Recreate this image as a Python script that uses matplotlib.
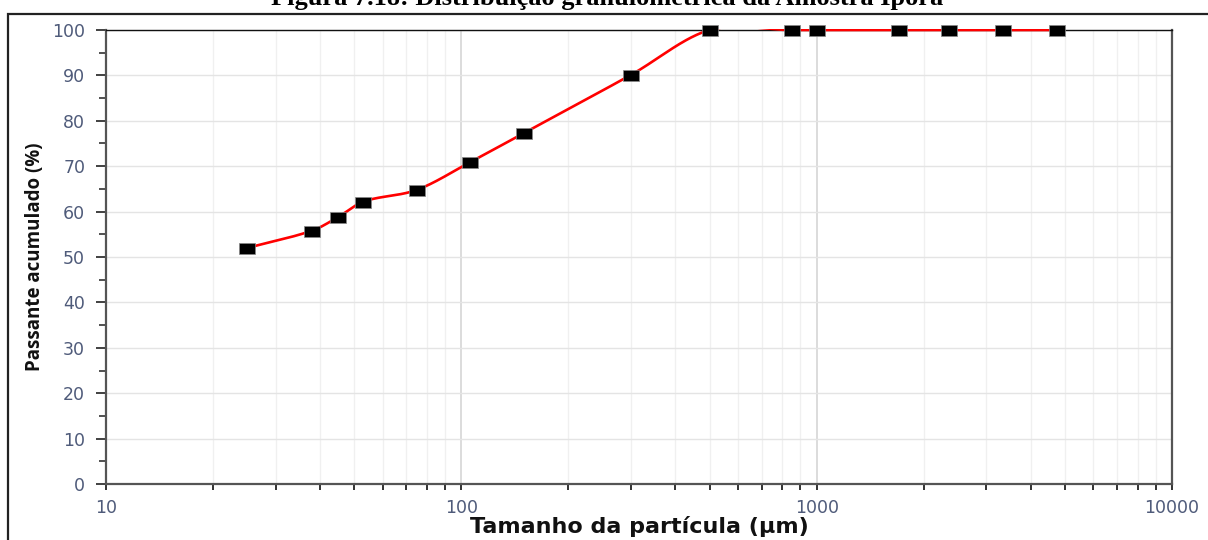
import numpy as np
import matplotlib
matplotlib.use("Agg")
import matplotlib.pyplot as plt
from matplotlib.patches import Rectangle
from matplotlib.ticker import FixedLocator, NullFormatter, FuncFormatter

# Particle size distribution, Iporá sample
size_um = [25, 38, 45, 53, 75, 106, 150, 300, 500, 850, 1000, 1700, 2360, 3350, 4750]
passing_pct = [52.0, 55.8, 58.8, 62.2, 64.8, 70.9, 77.3, 90.1, 100, 100, 100, 100, 100, 100, 100]

x_ticks = [10, 100, 1000, 10000]
y_ticks = list(range(0, 101, 10))

title = "Figura 7.18: Distribuição granulométrica da Amostra Iporá"
x_label = "Tamanho da partícula (µm)"
y_label = "Passante acumulado (%)"


def smooth_curve(xs, ys, n=60):
    """Cubic Hermite curve through the points, built in log10(x)."""
    u = np.log10(np.asarray(xs, float))
    y = np.asarray(ys, float)
    m = np.empty_like(y)
    m[1:-1] = (y[2:] - y[:-2]) / (u[2:] - u[:-2])
    m[0] = (y[1] - y[0]) / (u[1] - u[0])
    m[-1] = (y[-1] - y[-2]) / (u[-1] - u[-2])
    uu, yy = [], []
    for i in range(len(u) - 1):
        h = u[i + 1] - u[i]
        t = np.linspace(0, 1, n, endpoint=(i == len(u) - 2))
        h00 = 2 * t**3 - 3 * t**2 + 1
        h10 = t**3 - 2 * t**2 + t
        h01 = -2 * t**3 + 3 * t**2
        h11 = t**3 - t**2
        uu.append(u[i] + t * h)
        yy.append(h00 * y[i] + h10 * h * m[i] + h01 * y[i + 1] + h11 * h * m[i + 1])
    return 10 ** np.concatenate(uu), np.concatenate(yy)


fig = plt.figure(figsize=(12.08, 5.40), dpi=100)
ax = fig.add_axes([106 / 1208, 1 - 484 / 540, (1172 - 106) / 1208, (484 - 30) / 540])

ax.set_xscale("log")
ax.set_xlim(10, 10000)
ax.set_ylim(0, 100)

# grid
ax.xaxis.set_major_locator(FixedLocator(x_ticks))
ax.xaxis.set_minor_locator(FixedLocator(
    [k * 10 ** e for e in (1, 2, 3) for k in range(2, 10)]))
ax.xaxis.set_major_formatter(FuncFormatter(lambda v, p: f"{int(v)}"))
ax.xaxis.set_minor_formatter(NullFormatter())
ax.yaxis.set_major_locator(FixedLocator(y_ticks))
ax.yaxis.set_minor_locator(FixedLocator(list(range(5, 100, 10))))

ax.grid(which="major", axis="y", color="#e4e4e4", linewidth=1.0)
ax.grid(which="major", axis="x", color="#d2d2d2", linewidth=1.1)
ax.grid(which="minor", axis="x", color="#f0f0f0", linewidth=1.0)
ax.set_axisbelow(True)

# spines
for side in ("left", "bottom", "right"):
    ax.spines[side].set_color("#555555")
    ax.spines[side].set_linewidth(1.6)
ax.spines["top"].set_color("#111111")
ax.spines["top"].set_linewidth(1.0)

ax.tick_params(axis="y", which="major", direction="out", length=7, width=1.3,
               color="#333333", pad=8, labelsize=12.5, labelcolor="#4f5b7a")
ax.tick_params(axis="y", which="minor", direction="out", length=5, width=1.2,
               color="#333333")
ax.tick_params(axis="x", which="both", direction="out", length=4, width=1.3,
               color="#222222", pad=7, labelsize=12.5, labelcolor="#4f5b7a")
for lab in ax.get_xticklabels() + ax.get_yticklabels():
    lab.set_fontfamily("DejaVu Sans")

# smooth passing curve and measured points
cx, cy = smooth_curve(size_um, passing_pct)
line, = ax.plot(cx, cy, color="#ff0000", linewidth=1.9, zorder=3)
clip = Rectangle((0, -0.01), 1, 1.0125, transform=ax.transAxes,
                 facecolor="none", edgecolor="none")
line.set_clip_path(clip)

rect_marker = [(-1.0, -0.72), (1.0, -0.72), (1.0, 0.72), (-1.0, 0.72), (-1.0, -0.72)]
ax.plot(size_um, passing_pct, linestyle="none", marker=rect_marker,
        markersize=11, markerfacecolor="black", markeredgecolor="#888888",
        markeredgewidth=0.5, zorder=4, clip_on=False)

ax.set_xlabel(x_label, fontsize=16, fontweight="bold", family="DejaVu Sans",
              color="#111111")
ax.set_ylabel(y_label, fontsize=13.5, fontweight="bold", family="Open Sans",
              color="#111111")
ax.xaxis.set_label_coords(0.5, -(516 - 484) / 454, transform=ax.transAxes)
ax.yaxis.set_label_coords(-(106 - 45) / 1066, 0.5, transform=ax.transAxes)

# page frame and caption
fig.patches.append(Rectangle((8 / 1208, -0.05), 1.2, 1.05 - 14 / 540,
                             transform=fig.transFigure, fill=False,
                             edgecolor="#222222", linewidth=1.6))
fig.text(0.503, 1 - 5 / 540, title, ha="center", va="baseline",
         fontsize=19, fontweight="bold", family="Liberation Serif", color="black")

fig.savefig("out.png", dpi=100)
